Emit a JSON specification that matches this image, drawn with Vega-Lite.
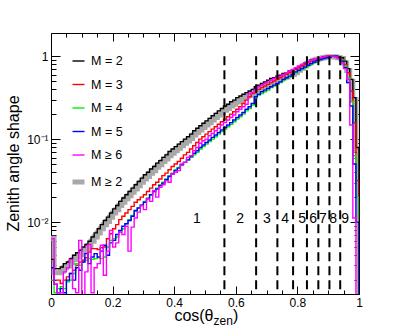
{
"$schema":"https://vega.github.io/schema/vega-lite/v6.json",
"width":308,"height":261,
"autosize":{"type":"none"},
"padding":{"left":51,"top":33,"right":40,"bottom":34},
"background":"white",
"config":{"font":"Liberation Sans","view":{"stroke":"black","strokeWidth":1},
"axis":{"grid":false,"domain":false,"tickColor":"black","tickWidth":1,"labelColor":"black","labelFont":"Liberation Sans","labelFontSize":12,"labelFlush":false,"labelOverlap":false,"titleColor":"black","titleFont":"Liberation Sans","titleFontWeight":"normal"}},
"datasets":{
"all":[
{"m":"M ≥ 2","x":0,"y":0.0064},{"m":"M ≥ 2","x":0.01,"y":0.00245},{"m":"M ≥ 2","x":0.02,"y":0.00245},{"m":"M ≥ 2","x":0.03,"y":0.00256},{"m":"M ≥ 2","x":0.04,"y":0.00281},{"m":"M ≥ 2","x":0.05,"y":0.00295},{"m":"M ≥ 2","x":0.06,"y":0.00323},{"m":"M ≥ 2","x":0.07,"y":0.00354},{"m":"M ≥ 2","x":0.08,"y":0.0038},{"m":"M ≥ 2","x":0.09,"y":0.00407},
{"m":"M ≥ 2","x":0.1,"y":0.00446},{"m":"M ≥ 2","x":0.11,"y":0.00478},{"m":"M ≥ 2","x":0.12,"y":0.00524},{"m":"M ≥ 2","x":0.13,"y":0.00588},{"m":"M ≥ 2","x":0.14,"y":0.0066},{"m":"M ≥ 2","x":0.15,"y":0.0074},{"m":"M ≥ 2","x":0.16,"y":0.0083},{"m":"M ≥ 2","x":0.17,"y":0.00932},{"m":"M ≥ 2","x":0.18,"y":0.0102},{"m":"M ≥ 2","x":0.19,"y":0.01146},
{"m":"M ≥ 2","x":0.2,"y":0.01286},{"m":"M ≥ 2","x":0.21,"y":0.01411},{"m":"M ≥ 2","x":0.22,"y":0.01582},{"m":"M ≥ 2","x":0.23,"y":0.01736},{"m":"M ≥ 2","x":0.24,"y":0.01905},{"m":"M ≥ 2","x":0.25,"y":0.0208},{"m":"M ≥ 2","x":0.26,"y":0.0229},{"m":"M ≥ 2","x":0.27,"y":0.0251},{"m":"M ≥ 2","x":0.28,"y":0.0275},{"m":"M ≥ 2","x":0.29,"y":0.0302},
{"m":"M ≥ 2","x":0.3,"y":0.0331},{"m":"M ≥ 2","x":0.31,"y":0.0354},{"m":"M ≥ 2","x":0.32,"y":0.0389},{"m":"M ≥ 2","x":0.33,"y":0.0417},{"m":"M ≥ 2","x":0.34,"y":0.0457},{"m":"M ≥ 2","x":0.35,"y":0.049},{"m":"M ≥ 2","x":0.36,"y":0.0537},{"m":"M ≥ 2","x":0.37,"y":0.0575},{"m":"M ≥ 2","x":0.38,"y":0.063},{"m":"M ≥ 2","x":0.39,"y":0.0676},
{"m":"M ≥ 2","x":0.4,"y":0.0724},{"m":"M ≥ 2","x":0.41,"y":0.0775},{"m":"M ≥ 2","x":0.42,"y":0.083},{"m":"M ≥ 2","x":0.43,"y":0.089},{"m":"M ≥ 2","x":0.44,"y":0.0952},{"m":"M ≥ 2","x":0.45,"y":0.102},{"m":"M ≥ 2","x":0.46,"y":0.112},{"m":"M ≥ 2","x":0.47,"y":0.12},{"m":"M ≥ 2","x":0.48,"y":0.129},{"m":"M ≥ 2","x":0.49,"y":0.138},
{"m":"M ≥ 2","x":0.5,"y":0.148},{"m":"M ≥ 2","x":0.51,"y":0.158},{"m":"M ≥ 2","x":0.52,"y":0.17},{"m":"M ≥ 2","x":0.53,"y":0.182},{"m":"M ≥ 2","x":0.54,"y":0.195},{"m":"M ≥ 2","x":0.55,"y":0.208},{"m":"M ≥ 2","x":0.56,"y":0.223},{"m":"M ≥ 2","x":0.57,"y":0.234},{"m":"M ≥ 2","x":0.58,"y":0.251},{"m":"M ≥ 2","x":0.59,"y":0.263},
{"m":"M ≥ 2","x":0.6,"y":0.281},{"m":"M ≥ 2","x":0.61,"y":0.295},{"m":"M ≥ 2","x":0.62,"y":0.309},{"m":"M ≥ 2","x":0.63,"y":0.323},{"m":"M ≥ 2","x":0.64,"y":0.338},{"m":"M ≥ 2","x":0.65,"y":0.354},{"m":"M ≥ 2","x":0.66,"y":0.38},{"m":"M ≥ 2","x":0.67,"y":0.398},{"m":"M ≥ 2","x":0.68,"y":0.417},{"m":"M ≥ 2","x":0.69,"y":0.436},
{"m":"M ≥ 2","x":0.7,"y":0.457},{"m":"M ≥ 2","x":0.71,"y":0.478},{"m":"M ≥ 2","x":0.72,"y":0.49},{"m":"M ≥ 2","x":0.73,"y":0.512},{"m":"M ≥ 2","x":0.74,"y":0.524},{"m":"M ≥ 2","x":0.75,"y":0.549},{"m":"M ≥ 2","x":0.76,"y":0.562},{"m":"M ≥ 2","x":0.77,"y":0.588},{"m":"M ≥ 2","x":0.78,"y":0.602},{"m":"M ≥ 2","x":0.79,"y":0.63},
{"m":"M ≥ 2","x":0.8,"y":0.674},{"m":"M ≥ 2","x":0.81,"y":0.714},{"m":"M ≥ 2","x":0.82,"y":0.764},{"m":"M ≥ 2","x":0.83,"y":0.817},{"m":"M ≥ 2","x":0.84,"y":0.864},{"m":"M ≥ 2","x":0.85,"y":0.894},{"m":"M ≥ 2","x":0.86,"y":0.914},{"m":"M ≥ 2","x":0.87,"y":0.936},{"m":"M ≥ 2","x":0.88,"y":0.957},{"m":"M ≥ 2","x":0.89,"y":0.969},
{"m":"M ≥ 2","x":0.9,"y":0.98},{"m":"M ≥ 2","x":0.91,"y":0.98},{"m":"M ≥ 2","x":0.92,"y":0.978},{"m":"M ≥ 2","x":0.93,"y":0.957},{"m":"M ≥ 2","x":0.94,"y":0.936},{"m":"M ≥ 2","x":0.95,"y":0.827},{"m":"M ≥ 2","x":0.96,"y":0.673},{"m":"M ≥ 2","x":0.97,"y":0.499},{"m":"M ≥ 2","x":0.98,"y":0.3},{"m":"M ≥ 2","x":0.99,"y":0.075},
{"m":"M ≥ 2","x":1,"y":0.0001}
],
"multi":[
{"m":"M = 2","x":0,"y":0.00355},{"m":"M = 2","x":0.01,"y":0.00275},{"m":"M = 2","x":0.02,"y":0.00275},{"m":"M = 2","x":0.03,"y":0.00288},{"m":"M = 2","x":0.04,"y":0.00316},{"m":"M = 2","x":0.05,"y":0.00331},{"m":"M = 2","x":0.06,"y":0.00363},{"m":"M = 2","x":0.07,"y":0.00398},{"m":"M = 2","x":0.08,"y":0.00427},{"m":"M = 2","x":0.09,"y":0.00457},
{"m":"M = 2","x":0.1,"y":0.00501},{"m":"M = 2","x":0.11,"y":0.00537},{"m":"M = 2","x":0.12,"y":0.00589},{"m":"M = 2","x":0.13,"y":0.00661},{"m":"M = 2","x":0.14,"y":0.00741},{"m":"M = 2","x":0.15,"y":0.00832},{"m":"M = 2","x":0.16,"y":0.00933},{"m":"M = 2","x":0.17,"y":0.01047},{"m":"M = 2","x":0.18,"y":0.01148},{"m":"M = 2","x":0.19,"y":0.01288},
{"m":"M = 2","x":0.2,"y":0.01445},{"m":"M = 2","x":0.21,"y":0.01585},{"m":"M = 2","x":0.22,"y":0.01778},{"m":"M = 2","x":0.23,"y":0.0195},{"m":"M = 2","x":0.24,"y":0.0214},{"m":"M = 2","x":0.25,"y":0.0234},{"m":"M = 2","x":0.26,"y":0.0257},{"m":"M = 2","x":0.27,"y":0.0282},{"m":"M = 2","x":0.28,"y":0.0309},{"m":"M = 2","x":0.29,"y":0.0339},
{"m":"M = 2","x":0.3,"y":0.0372},{"m":"M = 2","x":0.31,"y":0.0398},{"m":"M = 2","x":0.32,"y":0.0437},{"m":"M = 2","x":0.33,"y":0.0468},{"m":"M = 2","x":0.34,"y":0.0513},{"m":"M = 2","x":0.35,"y":0.055},{"m":"M = 2","x":0.36,"y":0.0603},{"m":"M = 2","x":0.37,"y":0.0646},{"m":"M = 2","x":0.38,"y":0.0708},{"m":"M = 2","x":0.39,"y":0.0759},
{"m":"M = 2","x":0.4,"y":0.0813},{"m":"M = 2","x":0.41,"y":0.0871},{"m":"M = 2","x":0.42,"y":0.0933},{"m":"M = 2","x":0.43,"y":0.1},{"m":"M = 2","x":0.44,"y":0.107},{"m":"M = 2","x":0.45,"y":0.115},{"m":"M = 2","x":0.46,"y":0.126},{"m":"M = 2","x":0.47,"y":0.135},{"m":"M = 2","x":0.48,"y":0.145},{"m":"M = 2","x":0.49,"y":0.155},
{"m":"M = 2","x":0.5,"y":0.166},{"m":"M = 2","x":0.51,"y":0.178},{"m":"M = 2","x":0.52,"y":0.191},{"m":"M = 2","x":0.53,"y":0.204},{"m":"M = 2","x":0.54,"y":0.219},{"m":"M = 2","x":0.55,"y":0.234},{"m":"M = 2","x":0.56,"y":0.251},{"m":"M = 2","x":0.57,"y":0.263},{"m":"M = 2","x":0.58,"y":0.282},{"m":"M = 2","x":0.59,"y":0.295},
{"m":"M = 2","x":0.6,"y":0.316},{"m":"M = 2","x":0.61,"y":0.331},{"m":"M = 2","x":0.62,"y":0.347},{"m":"M = 2","x":0.63,"y":0.363},{"m":"M = 2","x":0.64,"y":0.38},{"m":"M = 2","x":0.65,"y":0.398},{"m":"M = 2","x":0.66,"y":0.427},{"m":"M = 2","x":0.67,"y":0.447},{"m":"M = 2","x":0.68,"y":0.468},{"m":"M = 2","x":0.69,"y":0.49},
{"m":"M = 2","x":0.7,"y":0.513},{"m":"M = 2","x":0.71,"y":0.537},{"m":"M = 2","x":0.72,"y":0.55},{"m":"M = 2","x":0.73,"y":0.575},{"m":"M = 2","x":0.74,"y":0.589},{"m":"M = 2","x":0.75,"y":0.617},{"m":"M = 2","x":0.76,"y":0.631},{"m":"M = 2","x":0.77,"y":0.661},{"m":"M = 2","x":0.78,"y":0.676},{"m":"M = 2","x":0.79,"y":0.708},
{"m":"M = 2","x":0.8,"y":0.741},{"m":"M = 2","x":0.81,"y":0.776},{"m":"M = 2","x":0.82,"y":0.813},{"m":"M = 2","x":0.83,"y":0.851},{"m":"M = 2","x":0.84,"y":0.891},{"m":"M = 2","x":0.85,"y":0.912},{"m":"M = 2","x":0.86,"y":0.933},{"m":"M = 2","x":0.87,"y":0.955},{"m":"M = 2","x":0.88,"y":0.977},{"m":"M = 2","x":0.89,"y":0.989},
{"m":"M = 2","x":0.9,"y":1.0},{"m":"M = 2","x":0.91,"y":1.0},{"m":"M = 2","x":0.92,"y":0.998},{"m":"M = 2","x":0.93,"y":0.977},{"m":"M = 2","x":0.94,"y":0.955},{"m":"M = 2","x":0.95,"y":0.871},{"m":"M = 2","x":0.96,"y":0.708},{"m":"M = 2","x":0.97,"y":0.525},{"m":"M = 2","x":0.98,"y":0.316},{"m":"M = 2","x":0.99,"y":0.0794},
{"m":"M = 2","x":1,"y":0.0001},
{"m":"M = 3","x":0,"y":0.00282},{"m":"M = 3","x":0.01,"y":0.002},{"m":"M = 3","x":0.02,"y":0.002},{"m":"M = 3","x":0.03,"y":0.00182},{"m":"M = 3","x":0.04,"y":0.002},{"m":"M = 3","x":0.05,"y":0.00219},{"m":"M = 3","x":0.06,"y":0.0024},{"m":"M = 3","x":0.07,"y":0.00263},{"m":"M = 3","x":0.08,"y":0.00302},{"m":"M = 3","x":0.09,"y":0.00331},
{"m":"M = 3","x":0.1,"y":0.00347},{"m":"M = 3","x":0.11,"y":0.00372},{"m":"M = 3","x":0.12,"y":0.00437},{"m":"M = 3","x":0.13,"y":0.00479},{"m":"M = 3","x":0.14,"y":0.00479},{"m":"M = 3","x":0.15,"y":0.00468},{"m":"M = 3","x":0.16,"y":0.0049},{"m":"M = 3","x":0.17,"y":0.00501},{"m":"M = 3","x":0.18,"y":0.00631},{"m":"M = 3","x":0.19,"y":0.00724},
{"m":"M = 3","x":0.2,"y":0.00832},{"m":"M = 3","x":0.21,"y":0.00933},{"m":"M = 3","x":0.22,"y":0.01072},{"m":"M = 3","x":0.23,"y":0.01175},{"m":"M = 3","x":0.24,"y":0.01288},{"m":"M = 3","x":0.25,"y":0.01413},{"m":"M = 3","x":0.26,"y":0.01549},{"m":"M = 3","x":0.27,"y":0.01738},{"m":"M = 3","x":0.28,"y":0.01862},{"m":"M = 3","x":0.29,"y":0.02},
{"m":"M = 3","x":0.3,"y":0.0214},{"m":"M = 3","x":0.31,"y":0.0234},{"m":"M = 3","x":0.32,"y":0.0257},{"m":"M = 3","x":0.33,"y":0.0282},{"m":"M = 3","x":0.34,"y":0.0302},{"m":"M = 3","x":0.35,"y":0.0331},{"m":"M = 3","x":0.36,"y":0.0363},{"m":"M = 3","x":0.37,"y":0.0389},{"m":"M = 3","x":0.38,"y":0.0427},{"m":"M = 3","x":0.39,"y":0.0468},
{"m":"M = 3","x":0.4,"y":0.0501},{"m":"M = 3","x":0.41,"y":0.0537},{"m":"M = 3","x":0.42,"y":0.0589},{"m":"M = 3","x":0.43,"y":0.0646},{"m":"M = 3","x":0.44,"y":0.0692},{"m":"M = 3","x":0.45,"y":0.0759},{"m":"M = 3","x":0.46,"y":0.0832},{"m":"M = 3","x":0.47,"y":0.0912},{"m":"M = 3","x":0.48,"y":0.1},{"m":"M = 3","x":0.49,"y":0.107},
{"m":"M = 3","x":0.5,"y":0.115},{"m":"M = 3","x":0.51,"y":0.123},{"m":"M = 3","x":0.52,"y":0.132},{"m":"M = 3","x":0.53,"y":0.141},{"m":"M = 3","x":0.54,"y":0.151},{"m":"M = 3","x":0.55,"y":0.162},{"m":"M = 3","x":0.56,"y":0.174},{"m":"M = 3","x":0.57,"y":0.186},{"m":"M = 3","x":0.58,"y":0.2},{"m":"M = 3","x":0.59,"y":0.214},
{"m":"M = 3","x":0.6,"y":0.229},{"m":"M = 3","x":0.61,"y":0.245},{"m":"M = 3","x":0.62,"y":0.269},{"m":"M = 3","x":0.63,"y":0.295},{"m":"M = 3","x":0.64,"y":0.324},{"m":"M = 3","x":0.65,"y":0.355},{"m":"M = 3","x":0.66,"y":0.38},{"m":"M = 3","x":0.67,"y":0.398},{"m":"M = 3","x":0.68,"y":0.417},{"m":"M = 3","x":0.69,"y":0.437},
{"m":"M = 3","x":0.7,"y":0.457},{"m":"M = 3","x":0.71,"y":0.479},{"m":"M = 3","x":0.72,"y":0.501},{"m":"M = 3","x":0.73,"y":0.525},{"m":"M = 3","x":0.74,"y":0.55},{"m":"M = 3","x":0.75,"y":0.575},{"m":"M = 3","x":0.76,"y":0.603},{"m":"M = 3","x":0.77,"y":0.631},{"m":"M = 3","x":0.78,"y":0.661},{"m":"M = 3","x":0.79,"y":0.692},
{"m":"M = 3","x":0.8,"y":0.724},{"m":"M = 3","x":0.81,"y":0.759},{"m":"M = 3","x":0.82,"y":0.794},{"m":"M = 3","x":0.83,"y":0.832},{"m":"M = 3","x":0.84,"y":0.871},{"m":"M = 3","x":0.85,"y":0.891},{"m":"M = 3","x":0.86,"y":0.912},{"m":"M = 3","x":0.87,"y":0.933},{"m":"M = 3","x":0.88,"y":0.955},{"m":"M = 3","x":0.89,"y":0.977},
{"m":"M = 3","x":0.9,"y":1.0},{"m":"M = 3","x":0.91,"y":1.0},{"m":"M = 3","x":0.92,"y":0.995},{"m":"M = 3","x":0.93,"y":0.977},{"m":"M = 3","x":0.94,"y":0.912},{"m":"M = 3","x":0.95,"y":0.794},{"m":"M = 3","x":0.96,"y":0.631},{"m":"M = 3","x":0.97,"y":0.38},{"m":"M = 3","x":0.98,"y":0.158},{"m":"M = 3","x":0.99,"y":0.0316},
{"m":"M = 3","x":1,"y":0.0001},
{"m":"M = 4","x":0,"y":0.002},{"m":"M = 4","x":0.01,"y":0.00141},{"m":"M = 4","x":0.02,"y":0.00158},{"m":"M = 4","x":0.03,"y":0.00166},{"m":"M = 4","x":0.04,"y":0.00158},{"m":"M = 4","x":0.05,"y":0.00191},{"m":"M = 4","x":0.06,"y":0.002},{"m":"M = 4","x":0.07,"y":0.0024},{"m":"M = 4","x":0.08,"y":0.00316},{"m":"M = 4","x":0.09,"y":0.00302},
{"m":"M = 4","x":0.1,"y":0.00331},{"m":"M = 4","x":0.11,"y":0.00347},{"m":"M = 4","x":0.12,"y":0.00363},{"m":"M = 4","x":0.13,"y":0.00355},{"m":"M = 4","x":0.14,"y":0.00363},{"m":"M = 4","x":0.15,"y":0.00372},{"m":"M = 4","x":0.16,"y":0.00363},{"m":"M = 4","x":0.17,"y":0.0038},{"m":"M = 4","x":0.18,"y":0.00501},{"m":"M = 4","x":0.19,"y":0.00603},
{"m":"M = 4","x":0.2,"y":0.00631},{"m":"M = 4","x":0.21,"y":0.00661},{"m":"M = 4","x":0.22,"y":0.00759},{"m":"M = 4","x":0.23,"y":0.00832},{"m":"M = 4","x":0.24,"y":0.00955},{"m":"M = 4","x":0.25,"y":0.01072},{"m":"M = 4","x":0.26,"y":0.01202},{"m":"M = 4","x":0.27,"y":0.01349},{"m":"M = 4","x":0.28,"y":0.01479},{"m":"M = 4","x":0.29,"y":0.01622},
{"m":"M = 4","x":0.3,"y":0.01778},{"m":"M = 4","x":0.31,"y":0.0195},{"m":"M = 4","x":0.32,"y":0.0214},{"m":"M = 4","x":0.33,"y":0.0234},{"m":"M = 4","x":0.34,"y":0.0257},{"m":"M = 4","x":0.35,"y":0.0282},{"m":"M = 4","x":0.36,"y":0.0302},{"m":"M = 4","x":0.37,"y":0.0331},{"m":"M = 4","x":0.38,"y":0.0363},{"m":"M = 4","x":0.39,"y":0.0389},
{"m":"M = 4","x":0.4,"y":0.0427},{"m":"M = 4","x":0.41,"y":0.0457},{"m":"M = 4","x":0.42,"y":0.049},{"m":"M = 4","x":0.43,"y":0.0525},{"m":"M = 4","x":0.44,"y":0.0562},{"m":"M = 4","x":0.45,"y":0.0603},{"m":"M = 4","x":0.46,"y":0.0646},{"m":"M = 4","x":0.47,"y":0.0692},{"m":"M = 4","x":0.48,"y":0.0759},{"m":"M = 4","x":0.49,"y":0.0813},
{"m":"M = 4","x":0.5,"y":0.0871},{"m":"M = 4","x":0.51,"y":0.0933},{"m":"M = 4","x":0.52,"y":0.1},{"m":"M = 4","x":0.53,"y":0.107},{"m":"M = 4","x":0.54,"y":0.115},{"m":"M = 4","x":0.55,"y":0.123},{"m":"M = 4","x":0.56,"y":0.132},{"m":"M = 4","x":0.57,"y":0.141},{"m":"M = 4","x":0.58,"y":0.151},{"m":"M = 4","x":0.59,"y":0.162},
{"m":"M = 4","x":0.6,"y":0.174},{"m":"M = 4","x":0.61,"y":0.186},{"m":"M = 4","x":0.62,"y":0.2},{"m":"M = 4","x":0.63,"y":0.219},{"m":"M = 4","x":0.64,"y":0.234},{"m":"M = 4","x":0.65,"y":0.257},{"m":"M = 4","x":0.66,"y":0.316},{"m":"M = 4","x":0.67,"y":0.339},{"m":"M = 4","x":0.68,"y":0.355},{"m":"M = 4","x":0.69,"y":0.372},
{"m":"M = 4","x":0.7,"y":0.389},{"m":"M = 4","x":0.71,"y":0.417},{"m":"M = 4","x":0.72,"y":0.437},{"m":"M = 4","x":0.73,"y":0.457},{"m":"M = 4","x":0.74,"y":0.479},{"m":"M = 4","x":0.75,"y":0.513},{"m":"M = 4","x":0.76,"y":0.537},{"m":"M = 4","x":0.77,"y":0.562},{"m":"M = 4","x":0.78,"y":0.603},{"m":"M = 4","x":0.79,"y":0.631},
{"m":"M = 4","x":0.8,"y":0.661},{"m":"M = 4","x":0.81,"y":0.692},{"m":"M = 4","x":0.82,"y":0.724},{"m":"M = 4","x":0.83,"y":0.759},{"m":"M = 4","x":0.84,"y":0.794},{"m":"M = 4","x":0.85,"y":0.832},{"m":"M = 4","x":0.86,"y":0.871},{"m":"M = 4","x":0.87,"y":0.912},{"m":"M = 4","x":0.88,"y":0.933},{"m":"M = 4","x":0.89,"y":0.955},
{"m":"M = 4","x":0.9,"y":0.977},{"m":"M = 4","x":0.91,"y":1.0},{"m":"M = 4","x":0.92,"y":0.99},{"m":"M = 4","x":0.93,"y":0.955},{"m":"M = 4","x":0.94,"y":0.891},{"m":"M = 4","x":0.95,"y":0.759},{"m":"M = 4","x":0.96,"y":0.55},{"m":"M = 4","x":0.97,"y":0.282},{"m":"M = 4","x":0.98,"y":0.0631},{"m":"M = 4","x":0.99,"y":0.02},
{"m":"M = 4","x":1,"y":0.0001},
{"m":"M = 5","x":0,"y":0.00282},{"m":"M = 5","x":0.01,"y":0.00178},{"m":"M = 5","x":0.02,"y":0.00141},{"m":"M = 5","x":0.03,"y":0.00158},{"m":"M = 5","x":0.04,"y":0.00141},{"m":"M = 5","x":0.05,"y":0.002},{"m":"M = 5","x":0.06,"y":0.0024},{"m":"M = 5","x":0.07,"y":0.002},{"m":"M = 5","x":0.08,"y":0.00282},{"m":"M = 5","x":0.09,"y":0.00263},
{"m":"M = 5","x":0.1,"y":0.00331},{"m":"M = 5","x":0.11,"y":0.00417},{"m":"M = 5","x":0.12,"y":0.00316},{"m":"M = 5","x":0.13,"y":0.0038},{"m":"M = 5","x":0.14,"y":0.00417},{"m":"M = 5","x":0.15,"y":0.0038},{"m":"M = 5","x":0.16,"y":0.00447},{"m":"M = 5","x":0.17,"y":0.00525},{"m":"M = 5","x":0.18,"y":0.00398},{"m":"M = 5","x":0.19,"y":0.00562},
{"m":"M = 5","x":0.2,"y":0.00603},{"m":"M = 5","x":0.21,"y":0.00708},{"m":"M = 5","x":0.22,"y":0.00794},{"m":"M = 5","x":0.23,"y":0.00891},{"m":"M = 5","x":0.24,"y":0.00955},{"m":"M = 5","x":0.25,"y":0.01047},{"m":"M = 5","x":0.26,"y":0.01175},{"m":"M = 5","x":0.27,"y":0.0138},{"m":"M = 5","x":0.28,"y":0.01479},{"m":"M = 5","x":0.29,"y":0.01585},
{"m":"M = 5","x":0.3,"y":0.01738},{"m":"M = 5","x":0.31,"y":0.01905},{"m":"M = 5","x":0.32,"y":0.0214},{"m":"M = 5","x":0.33,"y":0.0234},{"m":"M = 5","x":0.34,"y":0.0251},{"m":"M = 5","x":0.35,"y":0.0275},{"m":"M = 5","x":0.36,"y":0.0295},{"m":"M = 5","x":0.37,"y":0.0324},{"m":"M = 5","x":0.38,"y":0.0355},{"m":"M = 5","x":0.39,"y":0.038},
{"m":"M = 5","x":0.4,"y":0.0417},{"m":"M = 5","x":0.41,"y":0.0447},{"m":"M = 5","x":0.42,"y":0.049},{"m":"M = 5","x":0.43,"y":0.0525},{"m":"M = 5","x":0.44,"y":0.0562},{"m":"M = 5","x":0.45,"y":0.0617},{"m":"M = 5","x":0.46,"y":0.0676},{"m":"M = 5","x":0.47,"y":0.0724},{"m":"M = 5","x":0.48,"y":0.0794},{"m":"M = 5","x":0.49,"y":0.0851},
{"m":"M = 5","x":0.5,"y":0.0912},{"m":"M = 5","x":0.51,"y":0.0977},{"m":"M = 5","x":0.52,"y":0.105},{"m":"M = 5","x":0.53,"y":0.112},{"m":"M = 5","x":0.54,"y":0.12},{"m":"M = 5","x":0.55,"y":0.129},{"m":"M = 5","x":0.56,"y":0.138},{"m":"M = 5","x":0.57,"y":0.148},{"m":"M = 5","x":0.58,"y":0.158},{"m":"M = 5","x":0.59,"y":0.17},
{"m":"M = 5","x":0.6,"y":0.182},{"m":"M = 5","x":0.61,"y":0.195},{"m":"M = 5","x":0.62,"y":0.209},{"m":"M = 5","x":0.63,"y":0.229},{"m":"M = 5","x":0.64,"y":0.245},{"m":"M = 5","x":0.65,"y":0.269},{"m":"M = 5","x":0.66,"y":0.324},{"m":"M = 5","x":0.67,"y":0.347},{"m":"M = 5","x":0.68,"y":0.372},{"m":"M = 5","x":0.69,"y":0.389},
{"m":"M = 5","x":0.7,"y":0.407},{"m":"M = 5","x":0.71,"y":0.427},{"m":"M = 5","x":0.72,"y":0.447},{"m":"M = 5","x":0.73,"y":0.468},{"m":"M = 5","x":0.74,"y":0.49},{"m":"M = 5","x":0.75,"y":0.525},{"m":"M = 5","x":0.76,"y":0.55},{"m":"M = 5","x":0.77,"y":0.575},{"m":"M = 5","x":0.78,"y":0.603},{"m":"M = 5","x":0.79,"y":0.646},
{"m":"M = 5","x":0.8,"y":0.676},{"m":"M = 5","x":0.81,"y":0.708},{"m":"M = 5","x":0.82,"y":0.741},{"m":"M = 5","x":0.83,"y":0.776},{"m":"M = 5","x":0.84,"y":0.813},{"m":"M = 5","x":0.85,"y":0.851},{"m":"M = 5","x":0.86,"y":0.891},{"m":"M = 5","x":0.87,"y":0.912},{"m":"M = 5","x":0.88,"y":0.933},{"m":"M = 5","x":0.89,"y":0.955},
{"m":"M = 5","x":0.9,"y":0.977},{"m":"M = 5","x":0.91,"y":1.0},{"m":"M = 5","x":0.92,"y":1.0},{"m":"M = 5","x":0.93,"y":0.955},{"m":"M = 5","x":0.94,"y":0.871},{"m":"M = 5","x":0.95,"y":0.724},{"m":"M = 5","x":0.96,"y":0.479},{"m":"M = 5","x":0.97,"y":0.251},{"m":"M = 5","x":0.98,"y":0.0501},{"m":"M = 5","x":0.99,"y":0.01},
{"m":"M = 5","x":1,"y":0.0001},
{"m":"M ≥ 6","x":0,"y":0.00631},{"m":"M ≥ 6","x":0.01,"y":0.00178},{"m":"M ≥ 6","x":0.02,"y":0.00141},{"m":"M ≥ 6","x":0.03,"y":0.00141},{"m":"M ≥ 6","x":0.04,"y":0.00251},{"m":"M ≥ 6","x":0.05,"y":0.00282},{"m":"M ≥ 6","x":0.06,"y":0.00355},{"m":"M ≥ 6","x":0.07,"y":0.00158},{"m":"M ≥ 6","x":0.08,"y":0.00141},{"m":"M ≥ 6","x":0.09,"y":0.00603},
{"m":"M ≥ 6","x":0.1,"y":0.00126},{"m":"M ≥ 6","x":0.11,"y":0.00251},{"m":"M ≥ 6","x":0.12,"y":0.00537},{"m":"M ≥ 6","x":0.13,"y":0.00141},{"m":"M ≥ 6","x":0.14,"y":0.00282},{"m":"M ≥ 6","x":0.15,"y":0.00316},{"m":"M ≥ 6","x":0.16,"y":0.00525},{"m":"M ≥ 6","x":0.17,"y":0.00229},{"m":"M ≥ 6","x":0.18,"y":0.00447},{"m":"M ≥ 6","x":0.19,"y":0.00794},
{"m":"M ≥ 6","x":0.2,"y":0.00501},{"m":"M ≥ 6","x":0.21,"y":0.00562},{"m":"M ≥ 6","x":0.22,"y":0.00759},{"m":"M ≥ 6","x":0.23,"y":0.00708},{"m":"M ≥ 6","x":0.24,"y":0.00891},{"m":"M ≥ 6","x":0.25,"y":0.00447},{"m":"M ≥ 6","x":0.26,"y":0.00871},{"m":"M ≥ 6","x":0.27,"y":0.01122},{"m":"M ≥ 6","x":0.28,"y":0.01318},{"m":"M ≥ 6","x":0.29,"y":0.01585},
{"m":"M ≥ 6","x":0.3,"y":0.01413},{"m":"M ≥ 6","x":0.31,"y":0.01905},{"m":"M ≥ 6","x":0.32,"y":0.01778},{"m":"M ≥ 6","x":0.33,"y":0.024},{"m":"M ≥ 6","x":0.34,"y":0.02},{"m":"M ≥ 6","x":0.35,"y":0.0263},{"m":"M ≥ 6","x":0.36,"y":0.0282},{"m":"M ≥ 6","x":0.37,"y":0.0316},{"m":"M ≥ 6","x":0.38,"y":0.0302},{"m":"M ≥ 6","x":0.39,"y":0.038},
{"m":"M ≥ 6","x":0.4,"y":0.0398},{"m":"M ≥ 6","x":0.41,"y":0.0417},{"m":"M ≥ 6","x":0.42,"y":0.0501},{"m":"M ≥ 6","x":0.43,"y":0.0525},{"m":"M ≥ 6","x":0.44,"y":0.0603},{"m":"M ≥ 6","x":0.45,"y":0.0631},{"m":"M ≥ 6","x":0.46,"y":0.0724},{"m":"M ≥ 6","x":0.47,"y":0.0794},{"m":"M ≥ 6","x":0.48,"y":0.0891},{"m":"M ≥ 6","x":0.49,"y":0.0955},
{"m":"M ≥ 6","x":0.5,"y":0.1},{"m":"M ≥ 6","x":0.51,"y":0.11},{"m":"M ≥ 6","x":0.52,"y":0.117},{"m":"M ≥ 6","x":0.53,"y":0.126},{"m":"M ≥ 6","x":0.54,"y":0.135},{"m":"M ≥ 6","x":0.55,"y":0.148},{"m":"M ≥ 6","x":0.56,"y":0.158},{"m":"M ≥ 6","x":0.57,"y":0.17},{"m":"M ≥ 6","x":0.58,"y":0.182},{"m":"M ≥ 6","x":0.59,"y":0.195},
{"m":"M ≥ 6","x":0.6,"y":0.214},{"m":"M ≥ 6","x":0.61,"y":0.229},{"m":"M ≥ 6","x":0.62,"y":0.245},{"m":"M ≥ 6","x":0.63,"y":0.263},{"m":"M ≥ 6","x":0.64,"y":0.355},{"m":"M ≥ 6","x":0.65,"y":0.363},{"m":"M ≥ 6","x":0.66,"y":0.398},{"m":"M ≥ 6","x":0.67,"y":0.427},{"m":"M ≥ 6","x":0.68,"y":0.447},{"m":"M ≥ 6","x":0.69,"y":0.468},
{"m":"M ≥ 6","x":0.7,"y":0.49},{"m":"M ≥ 6","x":0.71,"y":0.513},{"m":"M ≥ 6","x":0.72,"y":0.537},{"m":"M ≥ 6","x":0.73,"y":0.562},{"m":"M ≥ 6","x":0.74,"y":0.575},{"m":"M ≥ 6","x":0.75,"y":0.603},{"m":"M ≥ 6","x":0.76,"y":0.631},{"m":"M ≥ 6","x":0.77,"y":0.661},{"m":"M ≥ 6","x":0.78,"y":0.692},{"m":"M ≥ 6","x":0.79,"y":0.724},
{"m":"M ≥ 6","x":0.8,"y":0.759},{"m":"M ≥ 6","x":0.81,"y":0.794},{"m":"M ≥ 6","x":0.82,"y":0.832},{"m":"M ≥ 6","x":0.83,"y":0.851},{"m":"M ≥ 6","x":0.84,"y":0.891},{"m":"M ≥ 6","x":0.85,"y":0.912},{"m":"M ≥ 6","x":0.86,"y":0.933},{"m":"M ≥ 6","x":0.87,"y":0.955},{"m":"M ≥ 6","x":0.88,"y":0.977},{"m":"M ≥ 6","x":0.89,"y":1.0},
{"m":"M ≥ 6","x":0.9,"y":1.0},{"m":"M ≥ 6","x":0.91,"y":1.0},{"m":"M ≥ 6","x":0.92,"y":0.977},{"m":"M ≥ 6","x":0.93,"y":0.933},{"m":"M ≥ 6","x":0.94,"y":0.832},{"m":"M ≥ 6","x":0.95,"y":0.708},{"m":"M ≥ 6","x":0.96,"y":0.525},{"m":"M ≥ 6","x":0.97,"y":0.148},{"m":"M ≥ 6","x":0.98,"y":0.0112},{"m":"M ≥ 6","x":0.99,"y":0.0003},
{"m":"M ≥ 6","x":1,"y":0.0001}
],
"bounds":[{"x":0.563},{"x":0.666},{"x":0.735},{"x":0.786},{"x":0.831},{"x":0.868},{"x":0.904},{"x":0.939}],
"regions":[{"label":"1","x":0.474},{"label":"2","x":0.614},{"label":"3","x":0.701},{"label":"4","x":0.76},{"label":"5","x":0.815},{"label":"6","x":0.851},{"label":"7","x":0.883},{"label":"8","x":0.916},{"label":"9","x":0.955}]
},
"layer":[
{"data":{"name":"all"},
 "mark":{"type":"line","interpolate":"step-after","clip":true},
 "encoding":{
  "x":{"field":"x","type":"quantitative","scale":{"domain":[0,1],"nice":false,"zero":false},
       "axis":{"orient":"bottom","values":[0,0.2,0.4,0.6,0.8,1],"format":"~g","tickSize":-8,"labelPadding":11,"title":null}},
  "y":{"field":"y","type":"quantitative","scale":{"type":"log","domain":[0.00136,1.9],"nice":false},
       "axis":{"orient":"left","values":[0.01,0.1,1],"labelExpr":"datum.value > 0.5 ? '1' : datum.value > 0.05 ? '10⁻¹' : '10⁻²'","tickSize":-9,"labelPadding":12,
               "title":"Zenith angle shape","titleFontSize":16,"titleX":-33,"titleY":130,"titleAngle":-90,"titleAlign":"center","titleBaseline":"alphabetic"}},
  "color":{"field":"m","type":"nominal","scale":{"domain":["M = 2","M = 3","M = 4","M = 5","M ≥ 6","M ≥ 2"],"range":["#000000","#ff0000","#00ee00","#0000ff","#ff00ff","#a8a8a8"]},
       "legend":{"orient":"none","legendX":19,"legendY":21,"title":null,"symbolType":"stroke","symbolSize":144,"labelFontSize":12.5,"labelFont":"Liberation Sans","labelColor":"black","labelOffset":4,"rowPadding":9.5,"padding":0}},
  "strokeWidth":{"field":"m","type":"nominal","scale":{"type":"ordinal","domain":["M = 2","M = 3","M = 4","M = 5","M ≥ 6","M ≥ 2"],"range":[1.4,1.4,1.4,1.4,1.4,5]},
       "legend":{"orient":"none","legendX":19,"legendY":21,"title":null,"symbolType":"stroke","symbolSize":144,"labelFontSize":12.5,"labelFont":"Liberation Sans","labelColor":"black","labelOffset":4,"rowPadding":9.5,"padding":0}}
 }},
{"data":{"name":"multi"},
 "mark":{"type":"line","interpolate":"step-after","clip":true},
 "encoding":{
  "x":{"field":"x","type":"quantitative","scale":{"domain":[0,1],"nice":false,"zero":false},
       "axis":{"orient":"bottom","values":[0.05,0.1,0.15,0.25,0.3,0.35,0.45,0.5,0.55,0.65,0.7,0.75,0.85,0.9,0.95],"labels":false,"tickSize":-4,"title":null}},
  "y":{"field":"y","type":"quantitative","scale":{"type":"log","domain":[0.00136,1.9],"nice":false},
       "axis":{"orient":"left","values":[0.002,0.003,0.004,0.005,0.006,0.007,0.008,0.009,0.02,0.03,0.04,0.05,0.06,0.07,0.08,0.09,0.2,0.3,0.4,0.5,0.6,0.7,0.8,0.9],"labels":false,"tickSize":-5,"title":null}},
  "color":{"field":"m","type":"nominal","scale":{"domain":["M = 2","M = 3","M = 4","M = 5","M ≥ 6","M ≥ 2"],"range":["#000000","#ff0000","#00ee00","#0000ff","#ff00ff","#a8a8a8"]}},
  "strokeWidth":{"field":"m","type":"nominal","scale":{"type":"ordinal","domain":["M = 2","M = 3","M = 4","M = 5","M ≥ 6","M ≥ 2"],"range":[1.4,1.4,1.4,1.4,1.4,5]}}
 }},
{"data":{"name":"bounds"},
 "mark":{"type":"rule","color":"black","strokeWidth":2,"strokeDash":[9,5]},
 "encoding":{
  "x":{"field":"x","type":"quantitative","axis":{"orient":"top","values":[0,0.2,0.4,0.6,0.8,1],"labels":false,"tickSize":-8,"title":null}},
  "y":{"datum":1,"type":"quantitative","axis":{"orient":"right","values":[0.01,0.1,1],"labels":false,"tickSize":-9,"title":null}},
  "y2":{"datum":0.00136}
 }},
{"data":{"name":"regions"},
 "mark":{"type":"text","fontSize":14,"font":"Liberation Sans","color":"black","baseline":"middle","align":"center"},
 "encoding":{
  "x":{"field":"x","type":"quantitative","axis":{"orient":"top","values":[0.05,0.1,0.15,0.25,0.3,0.35,0.45,0.5,0.55,0.65,0.7,0.75,0.85,0.9,0.95],"labels":false,"tickSize":-4,"title":null}},
  "y":{"datum":0.011,"type":"quantitative","axis":{"orient":"right","values":[0.002,0.003,0.004,0.005,0.006,0.007,0.008,0.009,0.02,0.03,0.04,0.05,0.06,0.07,0.08,0.09,0.2,0.3,0.4,0.5,0.6,0.7,0.8,0.9],"labels":false,"tickSize":-5,"title":null}},
  "text":{"field":"label"}
 }},
{"data":{"values":[{"t":"cos(θ","x":0.5276,"y":0.000641}]},
 "mark":{"type":"text","fontSize":16,"font":"Liberation Sans","color":"black","baseline":"alphabetic","align":"right"},
 "encoding":{"x":{"field":"x","type":"quantitative","axis":null},"y":{"field":"y","type":"quantitative","axis":null},"text":{"field":"t"}}},
{"data":{"values":[{"t":"zen","x":0.5276,"y":0.000574}]},
 "mark":{"type":"text","fontSize":12,"font":"Liberation Sans","color":"black","baseline":"alphabetic","align":"left"},
 "encoding":{"x":{"field":"x","type":"quantitative","axis":null},"y":{"field":"y","type":"quantitative","axis":null},"text":{"field":"t"}}},
{"data":{"values":[{"t":")","x":0.5276,"y":0.000641}]},
 "mark":{"type":"text","fontSize":16,"font":"Liberation Sans","color":"black","baseline":"alphabetic","align":"left","dx":19.5},
 "encoding":{"x":{"field":"x","type":"quantitative","axis":null},"y":{"field":"y","type":"quantitative","axis":null},"text":{"field":"t"}}}
],
"resolve":{"axis":{"x":"independent","y":"independent"}}
}
